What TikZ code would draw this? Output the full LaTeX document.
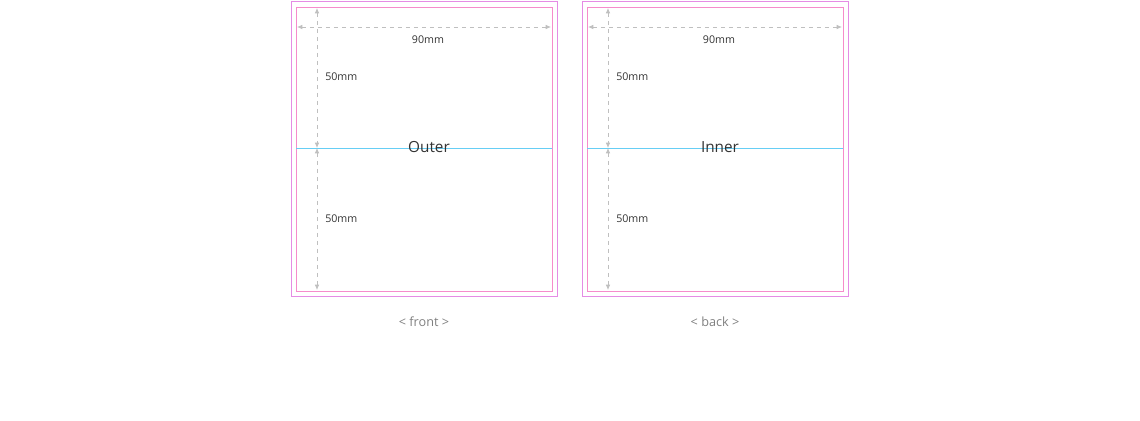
\documentclass[tikz,border=0pt]{standalone}
\usepackage{fontspec}
\setmainfont{Open Sans}
\usetikzlibrary{arrows.meta,positioning}

\begin{document}
\begin{tikzpicture}[
    x=0.75pt, y=-0.75pt,
    trim/.style={draw=violet!45!magenta!45, line width=0.6pt},
    bleed/.style={draw=magenta!45, line width=0.7pt},
    fold/.style={draw=cyan!60, line width=0.6pt},
    dim/.style={{Latex[length=4pt,width=3.5pt]}-{Latex[length=4pt,width=3.5pt]}, draw=gray!50, dashed, line width=0.6pt},
    lbl/.style={font=\fontsize{8}{9}\selectfont, text=black!80, inner sep=0pt},
    title/.style={font=\fontsize{11.5}{13}\selectfont, text=black!80, inner sep=0pt},
    sidelbl/.style={font=\fontsize{9.5}{11}\selectfont, text=gray, inner sep=0pt}
]
    \useasboundingbox (0,0) rectangle (1140,421);

    \foreach \x/\name/\side in {0/Outer/front, 291/Inner/back} {
        \begin{scope}[xshift=\x*0.75pt]
            \draw[trim] (291,1) rectangle (557,296);
            \draw[bleed] (296,7) rectangle (552,291);
            \coordinate (l) at (296,148);
            \coordinate (r) at (552,148);
            \draw[fold] (l) -- (r);
            % dimensions
            \coordinate (wl) at (297,27);
            \coordinate (wr) at (551,27);
            \draw[dim] (wl) -- (wr);
            \coordinate (top) at (317,8);
            \coordinate (mid) at (317,148);
            \coordinate (bot) at (317,290);
            \draw[dim] (top) -- (mid);
            \draw[dim] (mid) -- (bot);
            \node[lbl] (w) at (428,40) {90mm};
            \node[lbl, anchor=west] (h1) at (325,77) {50mm};
            \node[lbl, anchor=west] (h2) at (325,219) {50mm};
            \node[title] (t) at (429,147) {\name};
            \node[sidelbl] (c) at (424,322) {< \side\ >};
        \end{scope}
    }
\end{tikzpicture}
\end{document}
